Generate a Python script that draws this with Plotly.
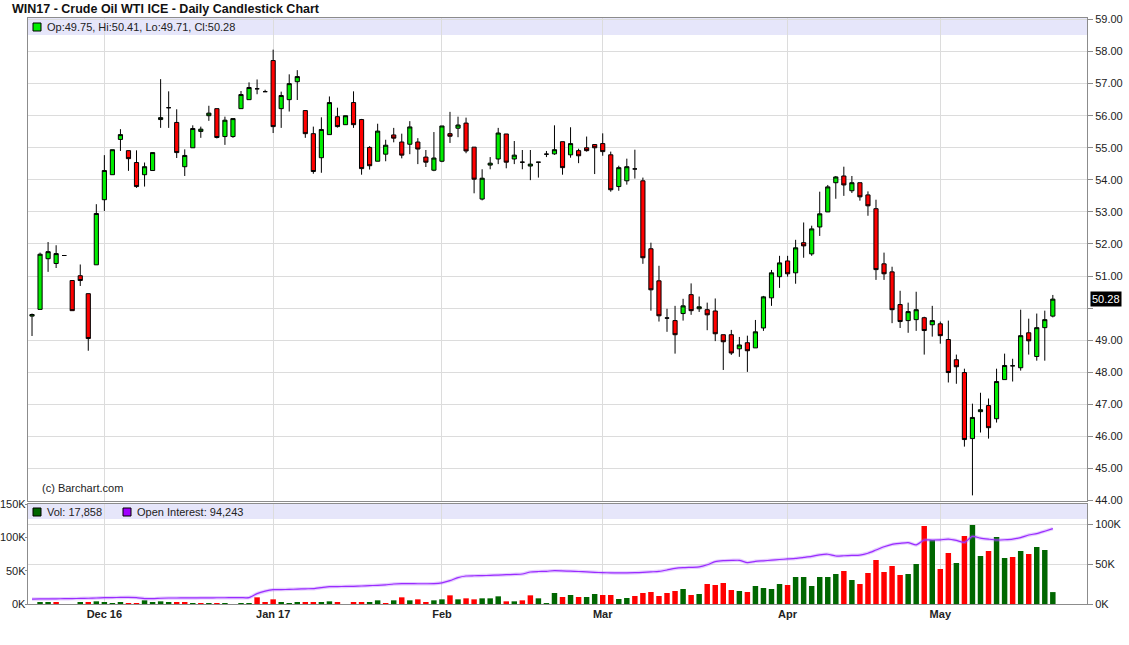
import plotly.graph_objects as go

# ---------------- data ----------------
opens = [49.75, 49.96, 51.54, 51.39, 51.64, 50.86, 51.01, 50.45, 51.35, 53.38,
         54.16, 55.26, 54.91, 54.54, 54.16, 54.29, 55.88, 56.25, 55.79, 54.41,
         55.00, 55.51, 56.00, 56.22, 55.35, 55.35, 56.22, 56.50, 56.84, 56.75,
         57.72, 56.22, 56.50, 57.06, 56.16, 55.44, 54.69, 55.41, 55.97, 55.72,
         56.41, 55.88, 55.01, 54.58, 54.80, 55.40, 55.18, 55.11, 55.18, 54.71,
         54.30, 54.58, 55.44, 55.61, 55.77, 55.02, 53.40, 54.46, 54.65, 55.43,
         54.65, 54.55, 54.43, 54.55, 54.80, 54.81, 55.19, 54.78, 54.91, 55.00,
         55.10, 55.13, 54.78, 53.79, 53.97, 54.34, 53.97, 51.85, 50.85, 49.69,
         49.61, 49.83, 50.42, 49.98, 49.95, 49.91, 49.17, 49.17, 48.73, 48.92,
         48.76, 49.38, 50.32, 50.98, 51.47, 51.10, 52.04, 51.69, 52.53, 53.00,
         53.91, 54.12, 53.66, 53.91, 53.53, 53.10, 51.38, 51.13, 50.11, 49.61,
         49.64, 49.70, 49.48, 49.51, 49.02, 48.39, 47.99, 45.93, 46.77, 46.96,
         46.55, 47.77, 48.20, 48.14, 49.23, 48.49, 49.39, 49.75]
highs = [49.83, 51.73, 52.06, 51.96, 51.64, 50.86, 51.36, 50.45, 53.24, 54.77,
         54.94, 55.58, 54.91, 54.92, 54.54, 54.85, 57.14, 56.76, 56.20, 54.95,
         55.70, 55.66, 56.31, 56.22, 55.97, 55.91, 56.77, 57.04, 57.13, 56.81,
         58.06, 56.75, 57.29, 57.42, 56.16, 55.66, 55.95, 56.60, 56.25, 56.00,
         56.76, 55.90, 55.05, 55.75, 55.25, 55.62, 55.44, 55.83, 55.30, 54.93,
         55.49, 55.68, 56.12, 55.97, 55.94, 55.02, 54.33, 54.71, 55.62, 55.43,
         55.21, 54.93, 54.93, 54.55, 54.90, 55.70, 55.19, 55.64, 54.97, 55.35,
         55.10, 55.45, 54.88, 54.44, 54.66, 54.94, 54.07, 52.04, 51.32, 49.98,
         50.07, 50.29, 50.77, 50.36, 50.17, 50.30, 49.17, 49.32, 49.10, 49.14,
         49.63, 50.38, 51.19, 51.63, 51.63, 52.13, 52.67, 52.57, 53.63, 53.84,
         54.12, 54.41, 54.12, 53.91, 53.64, 53.38, 51.73, 51.29, 50.54, 50.17,
         50.51, 49.73, 50.07, 49.58, 49.61, 48.55, 48.11, 47.02, 47.36, 47.18,
         48.11, 48.58, 48.42, 49.95, 49.67, 49.83, 49.92, 50.41]
lows = [49.13, 49.96, 51.13, 51.25, 51.64, 49.92, 50.69, 48.67, 51.35, 53.03,
        54.16, 54.90, 54.28, 53.75, 53.79, 54.29, 55.62, 55.62, 54.68, 54.12,
        55.00, 55.31, 55.84, 55.29, 55.09, 55.31, 56.22, 56.50, 56.67, 56.75,
        55.46, 55.62, 56.13, 56.49, 55.31, 54.19, 54.22, 55.41, 55.63, 55.72,
        55.62, 54.16, 54.32, 54.58, 54.58, 55.17, 54.67, 54.80, 54.49, 54.40,
        54.27, 54.55, 55.15, 55.33, 54.83, 53.58, 53.36, 54.33, 54.49, 54.36,
        54.49, 54.33, 53.99, 54.07, 54.71, 54.78, 54.16, 54.69, 54.52, 54.88,
        54.18, 54.75, 53.63, 53.66, 53.85, 54.04, 51.38, 49.92, 49.58, 49.26,
        48.58, 49.61, 49.79, 49.88, 49.31, 48.97, 48.07, 48.54, 48.48, 48.01,
        48.76, 49.29, 50.07, 50.63, 50.98, 50.76, 51.57, 51.63, 52.25, 53.00,
        53.41, 53.50, 53.59, 53.35, 52.88, 50.88, 50.88, 49.53, 49.38, 49.23,
        49.29, 48.55, 49.11, 48.89, 47.68, 47.64, 45.68, 44.16, 46.12, 45.93,
        46.43, 47.77, 47.71, 48.05, 48.55, 48.36, 48.36, 49.71]
closes = [49.80, 51.68, 51.76, 51.70, 51.64, 49.92, 50.86, 49.05, 52.95, 54.29,
          54.94, 55.41, 54.66, 53.79, 54.41, 54.85, 55.94, 56.25, 54.85, 54.76,
          55.60, 55.58, 56.08, 55.32, 55.86, 55.91, 56.66, 56.88, 56.84, 56.75,
          55.66, 56.63, 57.00, 57.22, 55.44, 54.26, 55.57, 56.41, 55.66, 56.00,
          55.72, 54.35, 54.44, 55.52, 55.08, 55.30, 54.77, 55.65, 54.96, 54.55,
          54.68, 55.68, 55.36, 55.71, 54.90, 54.02, 54.05, 54.52, 55.46, 54.55,
          54.77, 54.55, 54.49, 54.55, 54.80, 54.94, 54.38, 55.13, 54.75, 54.91,
          55.00, 54.88, 53.69, 54.38, 54.41, 54.34, 51.57, 50.57, 49.76, 49.69,
          49.17, 50.07, 49.92, 50.04, 49.79, 49.20, 48.95, 48.60, 48.85, 48.67,
          49.26, 50.35, 51.10, 51.41, 51.07, 51.88, 51.94, 52.47, 52.94, 53.78,
          54.09, 53.84, 53.91, 53.47, 53.19, 51.20, 51.07, 49.95, 49.58, 49.89,
          49.95, 49.30, 49.61, 49.14, 47.99, 48.17, 45.90, 46.59, 46.83, 46.27,
          47.71, 48.21, 48.20, 49.14, 48.98, 49.39, 49.64, 50.28]

# volume in thousands of contracts, and direction of each day's volume bar (u = up, d = down)
volume_k = [0, 2, 2, 2, 0, 0, 2, 2, 4, 2.5,
            1.5, 2.5, 1.5, 1.5, 5.5, 2.5, 4, 2.5, 2.5, 2.5,
            1.5, 1.5, 1.5, 1.5, 1.5, 0, 1.5, 1.5, 10, 2.5,
            7, 2.5, 1.5, 2.5, 2.5, 2.5, 2.5, 4, 2.5, 0,
            2.5, 2.5, 2.5, 5.5, 1.5, 5.5, 10, 5.5, 7, 2.5,
            5.5, 7, 13, 7, 8.5, 7, 8.5, 8.5, 11.5, 4,
            4, 5.5, 13, 8.5, 1.5, 16.5, 10.5, 13.5, 10.5, 10.5,
            15, 13.5, 13.5, 7.5, 9, 12, 16.5, 18, 12, 16.5,
            19.5, 22.5, 13.5, 15, 30, 28.5, 31.5, 21, 19.5, 18,
            27, 24, 22.5, 30, 28.5, 40.5, 40.5, 27, 40.5, 40.5,
            45, 49.5, 36, 30, 46.5, 66, 48, 57, 43.5, 45,
            60, 117, 96, 52.5, 76.5, 61.5, 102, 118.5, 72, 79.5,
            100.5, 69, 70.5, 79.5, 75, 85.5, 81, 17.858]
volume_dir = ["u", "u", "u", "d", "u", "u", "u", "d", "u", "u",
              "u", "u", "d", "d", "u", "u", "u", "u", "d", "d",
              "u", "d", "u", "d", "u", "u", "u", "u", "d", "d",
              "d", "u", "u", "u", "d", "d", "u", "u", "d", "u",
              "d", "d", "u", "u", "d", "u", "d", "u", "d", "d",
              "u", "u", "d", "u", "d", "d", "u", "u", "u", "d",
              "u", "d", "d", "u", "u", "u", "d", "u", "d", "u",
              "u", "d", "d", "u", "u", "d", "d", "d", "d", "d",
              "d", "u", "d", "u", "d", "d", "d", "d", "u", "d",
              "u", "u", "u", "u", "d", "u", "u", "u", "u", "u",
              "u", "d", "u", "d", "d", "d", "d", "d", "d", "u",
              "u", "d", "u", "d", "d", "u", "d", "u", "u", "d",
              "u", "u", "d", "u", "d", "u", "u", "u"]
open_interest_k = [6.2, 6.3, 6.4, 6.5, 6.6, 6.8, 7.0, 7.2, 7.5, 7.9,
                   8.0, 8.2, 8.3, 8.0, 6.8, 6.7, 7.2, 7.5, 7.5, 7.6,
                   7.6, 7.7, 7.7, 7.8, 7.8, 7.9, 7.9, 8.0, 13.0, 16.0,
                   17.9, 18.0, 18.3, 18.6, 19.0, 19.2, 20.5, 21.7, 21.8, 22.0,
                   22.1, 22.5, 23.0, 23.3, 24.0, 25.0, 25.4, 25.4, 25.3, 25.3,
                   25.4, 26.5, 29.2, 33.0, 35.0, 35.3, 35.5, 35.8, 36.2, 36.6,
                   37.0, 37.5, 40.0, 40.6, 40.9, 41.7, 41.4, 41.0, 40.6, 40.2,
                   39.6, 39.2, 39.0, 38.8, 38.9, 39.1, 39.6, 40.2, 40.8, 42.5,
                   44.5, 45.4, 45.8, 46.3, 49.0, 53.0, 54.2, 54.5, 54.6, 51.7,
                   53.3, 54.0, 54.8, 55.6, 56.3, 57.0, 58.2, 59.5, 61.5, 62.2,
                   60.0, 60.3, 60.8, 61.2, 63.5, 67.5, 71.5, 74.5, 75.8, 76.7,
                   73.8, 80.0, 80.0, 80.2, 81.2, 79.5, 77.0, 84.6, 82.3, 81.0,
                   80.0, 80.3, 81.0, 83.0, 86.2, 88.0, 91.0, 94.2]
open_interest_last = 94243
month_labels = ["Dec 16", "Jan 17", "Feb", "Mar", "Apr", "May"]
month_start_day = [9, 30, 51, 71, 94, 113]   # trading-day index of each month start
price_ticks = list(range(44, 60))
vol_ticks_k = [0, 50, 100, 150]
oi_ticks_k = [0, 50, 100]

days = list(range(len(opens)))

# ---------------- geometry helpers (pixels -> paper) ----------------
W, H = 1129, 645
ML, MR, MT, MB = 28, 42, 18, 41
PW = W - ML - MR
PH = H - MT - MB


def px(x):
    return (x - ML) / PW


def py(y):
    return (H - MB - y) / PH


FONT = "Liberation Sans, Arial, sans-serif"
GREEN = "#00ee00"
RED = "#ff0000"
VGREEN = "#006600"
PURPLE = "#9a2cff"
GRID = "#dcdcdc"
FRAME = "#8c8c8c"

last = len(closes) - 1

fig = go.Figure()

fig.add_trace(go.Candlestick(
    x=days, open=opens, high=highs, low=lows, close=closes,
    xaxis="x", yaxis="y",
    increasing=dict(line=dict(color="black", width=1), fillcolor=GREEN),
    decreasing=dict(line=dict(color="black", width=1), fillcolor=RED),
    whiskerwidth=0, showlegend=False, hoverinfo="skip",
))

fig.add_trace(go.Bar(
    x=days, y=[v * 1000 for v in volume_k],
    marker=dict(color=[VGREEN if d == "u" else RED for d in volume_dir], line=dict(width=0)),
    width=0.68, xaxis="x2", yaxis="y2", showlegend=False, hoverinfo="skip",
))

fig.add_trace(go.Scatter(
    x=days, y=[v * 1000 for v in open_interest_k], mode="lines",
    line=dict(color="rgba(170,90,255,0.30)", width=3.5, shape="spline", smoothing=0.6),
    xaxis="x2", yaxis="y3", showlegend=False, hoverinfo="skip",
))
fig.add_trace(go.Scatter(
    x=days, y=[v * 1000 for v in open_interest_k], mode="lines",
    line=dict(color=PURPLE, width=1.2, shape="spline", smoothing=0.6),
    xaxis="x2", yaxis="y3", showlegend=False, hoverinfo="skip",
))

xrange = [-0.5, (1087 - 32.0) / 8.038]
price_dom = [py(501), 1.0]
vol_dom = [0.0, py(504)]

axis_common = dict(showline=True, linecolor=FRAME, linewidth=1, mirror=True,
                   zeroline=False, fixedrange=True, automargin=False)

# hide the price label that sits behind the last-price marker
price_text = ["" if abs(v - closes[last]) < 0.5 else f"{v:.2f}" for v in price_ticks]

fig.update_layout(
    width=W, height=H,
    margin=dict(l=ML, r=MR, t=MT, b=MB, autoexpand=False),
    paper_bgcolor="white", plot_bgcolor="white",
    font=dict(family=FONT, size=11, color="#222"),
    boxgap=0.26,
    xaxis=dict(domain=[0, 1], range=xrange, anchor="y",
               tickvals=month_start_day, ticktext=month_labels, showticklabels=False,
               showgrid=True, gridcolor=GRID, gridwidth=1, ticks="",
               rangeslider=dict(visible=False), **axis_common),
    yaxis=dict(domain=price_dom, range=[43.984, 59.047], side="right", anchor="x",
               tickvals=price_ticks, ticktext=price_text,
               showgrid=True, gridcolor=GRID, gridwidth=1,
               ticks="outside", ticklen=5, tickcolor=FRAME,
               tickfont=dict(size=11, color="#222"), **axis_common),
    xaxis2=dict(domain=[0, 1], range=xrange, anchor="y2",
                tickvals=month_start_day, ticktext=[f"<b>{m}</b>" for m in month_labels],
                showgrid=True, gridcolor=GRID, gridwidth=1, ticks="",
                tickfont=dict(size=11, color="#222"), **axis_common),
    yaxis2=dict(domain=vol_dom, range=[0, 150000], side="left", anchor="x2",
                tickvals=[v * 1000 for v in vol_ticks_k], showticklabels=False,
                showgrid=False, ticks="outside", ticklen=2, tickcolor=FRAME, **axis_common),
    yaxis3=dict(domain=vol_dom, range=[0, 125000], side="right", anchor="x2", overlaying="y2",
                tickvals=[v * 1000 for v in oi_ticks_k], ticktext=[f"{v}K" for v in oi_ticks_k],
                showgrid=True, gridcolor=GRID, ticks="outside", ticklen=5, tickcolor=FRAME,
                tickfont=dict(size=11, color="#222"),
                showline=True, linecolor=FRAME, zeroline=False, fixedrange=True, automargin=False),
)

shapes = []
# legend bands
shapes.append(dict(type="rect", xref="paper", yref="paper", x0=px(28), x1=px(1087),
                   y0=py(35), y1=py(18), fillcolor="#e6e6fa", line=dict(width=0), layer="below"))
shapes.append(dict(type="rect", xref="paper", yref="paper", x0=px(28), x1=px(1087),
                   y0=py(519), y1=py(504), fillcolor="#e6e6fa", line=dict(width=0), layer="below"))
# legend swatches
shapes.append(dict(type="rect", xref="paper", yref="paper", x0=px(33), x1=px(41),
                   y0=py(31), y1=py(23), fillcolor=GREEN, line=dict(color="black", width=1)))
shapes.append(dict(type="rect", xref="paper", yref="paper", x0=px(33), x1=px(41),
                   y0=py(516), y1=py(508), fillcolor=VGREEN, line=dict(color="black", width=1)))
shapes.append(dict(type="rect", xref="paper", yref="paper", x0=px(123), x1=px(131),
                   y0=py(516), y1=py(508), fillcolor="#a000ff", line=dict(color="black", width=1)))
fig.update_layout(shapes=shapes)

annotations = [
    dict(text="<b>WIN17 - Crude Oil WTI ICE - Daily Candlestick Chart</b>", xref="paper", yref="paper",
         x=px(10), y=py(9), xanchor="left", yanchor="middle", showarrow=False,
         font=dict(size=12.5, color="#111")),
    dict(text=f"Op:{opens[last]:.2f}, Hi:{highs[last]:.2f}, Lo:{lows[last]:.2f}, Cl:{closes[last]:.2f}",
         xref="paper", yref="paper", x=px(45), y=py(27), xanchor="left", yanchor="middle",
         showarrow=False, font=dict(size=11, color="#222")),
    dict(text=f"Vol: {volume_k[last] * 1000:,.0f}", xref="paper", yref="paper", x=px(45), y=py(512),
         xanchor="left", yanchor="middle", showarrow=False, font=dict(size=11, color="#222")),
    dict(text=f"Open Interest: {open_interest_last:,}", xref="paper", yref="paper", x=px(135), y=py(512),
         xanchor="left", yanchor="middle", showarrow=False, font=dict(size=11, color="#222")),
    dict(text="(c) Barchart.com", xref="paper", yref="paper", x=px(40), y=py(488),
         xanchor="left", yanchor="middle", showarrow=False, font=dict(size=11, color="#222")),
    dict(text=f"{closes[last]:.2f}", xref="paper", yref="y", x=px(1090), y=closes[last],
         xanchor="left", yanchor="middle", showarrow=False, bgcolor="black", borderpad=1,
         font=dict(size=11, color="white")),
]
# left-hand volume axis labels
for v in vol_ticks_k:
    annotations.append(dict(text=f"{v}K", xref="paper", yref="y2", x=px(26.5), y=v * 1000,
                            xanchor="right", yanchor="middle", showarrow=False,
                            font=dict(size=11, color="#222"), borderpad=0))
fig.update_layout(annotations=annotations)

fig.write_html("out.html", config={"displayModeBar": False},
               post_script="document.body.style.margin='0px';document.body.style.overflow='hidden';")
